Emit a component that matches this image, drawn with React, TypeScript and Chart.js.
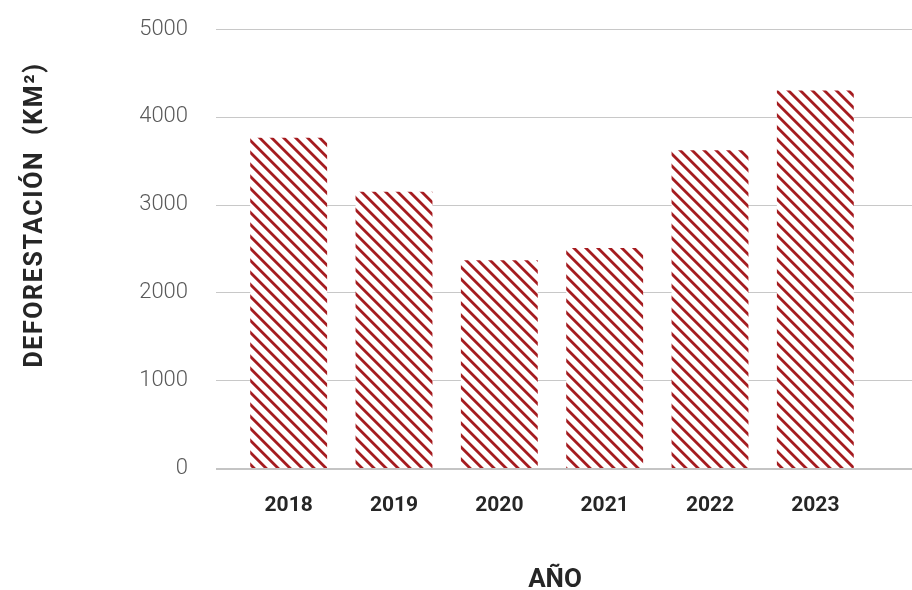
import React, { useEffect, useRef } from "react";
import { Chart, registerables } from "chart.js";

Chart.register(...registerables);

const years: string[] = ["2018", "2019", "2020", "2021", "2022", "2023"];
const deforestation: number[] = [3760, 3145, 2365, 2505, 3620, 4300];
const yMin = 0;
const yMax = 5000;
const yStep = 1000;
const xTitle = "AÑO";
const yTitle = "DEFORESTACIÓN  (KM²)";

const BAR_RED = [165, 28, 32];
const TEXT_DARK = "#262626";

function makeHatch(): CanvasPattern | string {
  const size = 12;
  const c = document.createElement("canvas");
  c.width = size;
  c.height = size;
  const ctx = c.getContext("2d");
  if (!ctx) return "#a51c20";
  const img = ctx.createImageData(size, size);
  const sub = 4;
  for (let y = 0; y < size; y++) {
    for (let x = 0; x < size; x++) {
      let cov = 0;
      for (let sy = 0; sy < sub; sy++) {
        for (let sx = 0; sx < sub; sx++) {
          const px = x + (sx + 0.5) / sub;
          const py = y + (sy + 0.5) / sub;
          const d = (((px - py) % size) + size) % size;
          if (d < 3.8) cov++;
        }
      }
      const a = cov / (sub * sub);
      const i = (y * size + x) * 4;
      img.data[i] = Math.round(255 + (BAR_RED[0] - 255) * a);
      img.data[i + 1] = Math.round(255 + (BAR_RED[1] - 255) * a);
      img.data[i + 2] = Math.round(255 + (BAR_RED[2] - 255) * a);
      img.data[i + 3] = 255;
    }
  }
  ctx.putImageData(img, 0, 0);
  const p = ctx.createPattern(c, "repeat");
  return p || "#a51c20";
}

const gridPlugin = {
  id: "extendedGrid",
  beforeDatasetsDraw(chart: any) {
    const { ctx, chartArea, scales } = chart;
    const y = scales.y;
    ctx.save();
    ctx.strokeStyle = "#c8c8c8";
    ctx.lineWidth = 1;
    y.ticks.forEach((t: any) => {
      if (t.value === 0) return;
      const py = Math.round(y.getPixelForValue(t.value)) + 0.5;
      ctx.beginPath();
      ctx.moveTo(chartArea.left - 20, py);
      ctx.lineTo(chart.width, py);
      ctx.stroke();
    });
    ctx.restore();
  },
  afterDatasetsDraw(chart: any) {
    const { ctx, chartArea, scales } = chart;
    const y = scales.y;
    const py = Math.round(y.getPixelForValue(0)) + 1;
    ctx.save();
    ctx.strokeStyle = "#c4c4c4";
    ctx.lineWidth = 2;
    ctx.beginPath();
    ctx.moveTo(chartArea.left - 20, py);
    ctx.lineTo(chart.width, py);
    ctx.stroke();
    ctx.restore();
  },
};

const titlePlugin = {
  id: "axisTitles",
  afterDraw(chart: any) {
    const { ctx } = chart;
    ctx.save();
    ctx.fillStyle = TEXT_DARK;
    ctx.font = "bold 26px Roboto";
    ctx.textAlign = "center";
    ctx.textBaseline = "alphabetic";
    ctx.fillText(xTitle, 555, 587);

    ctx.translate(42, 215);
    ctx.rotate(-Math.PI / 2);
    ctx.font = "bold 25px Roboto";
    try {
      (ctx as any).letterSpacing = "1.6px";
    } catch (e) {}
    ctx.fillText(yTitle, 0, 0);
    ctx.restore();
  },
};

export default function App() {
  const ref = useRef<HTMLCanvasElement | null>(null);

  useEffect(() => {
    if (!ref.current) return;
    const hatch = makeHatch();
    const chart = new Chart(ref.current, {
      type: "bar",
      data: {
        labels: years,
        datasets: [
          {
            label: yTitle,
            data: deforestation,
            backgroundColor: hatch as any,
            borderWidth: 0,
            barPercentage: 0.73,
            categoryPercentage: 1,
          },
        ],
      },
      options: {
        animation: false,
        responsive: false,
        devicePixelRatio: 1,
        layout: { padding: { left: 36, right: 44, top: 29, bottom: 0 } },
        plugins: {
          legend: { display: false },
          tooltip: { enabled: false },
        },
        scales: {
          x: {
            grid: { display: false, drawTicks: false },
            border: { display: false },
            ticks: {
              color: TEXT_DARK,
              font: { family: "Roboto", weight: "bold", size: 21 },
              padding: 25,
            },
            afterFit: (s: any) => {
              s.height = 122;
            },
          },
          y: {
            min: yMin,
            max: yMax,
            grid: { display: false, drawTicks: true, tickLength: 35 },
            border: { display: false },
            ticks: {
              stepSize: yStep,
              color: "#595959",
              font: { family: "Roboto", weight: "300", size: 22 },
              padding: 13,
              callback: (v: any) => String(v),
            },
            afterFit: (s: any) => {
              s.width = 200;
            },
          },
        },
      },
      plugins: [gridPlugin, titlePlugin],
    });
    return () => chart.destroy();
  }, []);

  return (
    <div style={{ position: "absolute", left: 0, top: 0, width: 912, height: 590, background: "#ffffff" }}>
      <canvas ref={ref} width={912} height={590} />
    </div>
  );
}
